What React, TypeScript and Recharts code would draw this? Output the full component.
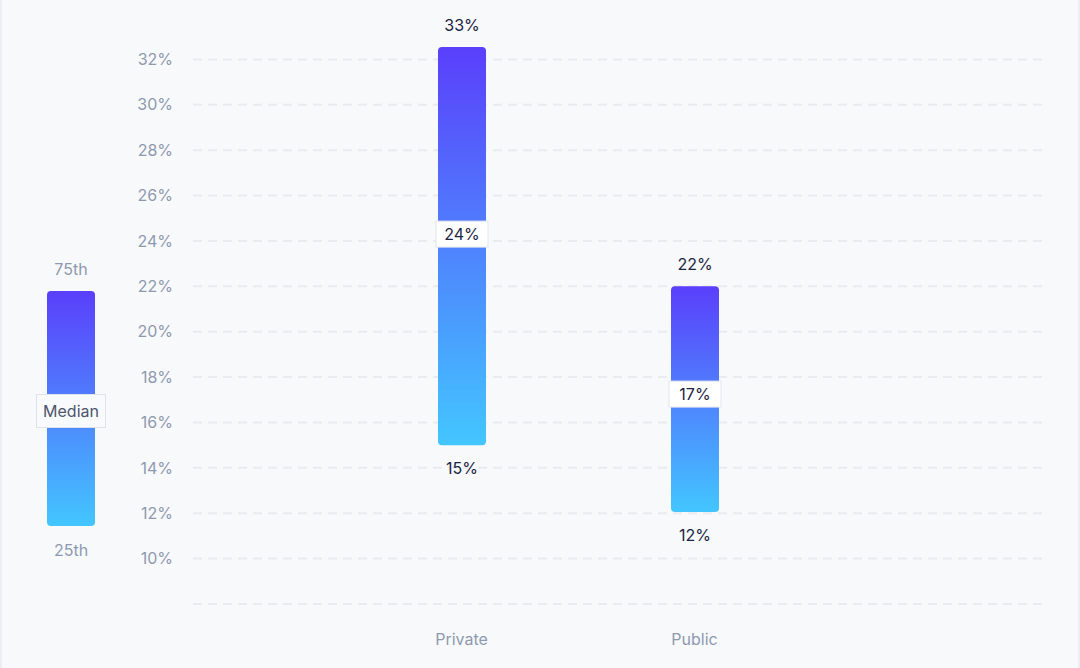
import { BarChart, Bar, XAxis, YAxis, CartesianGrid } from "recharts";

// Percentile ranges per category (in %)
const categories = ["Private", "Public"];
const p25Values = [15.0, 12.05];
const medianValues = [24.3, 17.25];
const p75Values = [32.55, 22.0];
const yTicks = [8, 10, 12, 14, 16, 18, 20, 22, 24, 26, 28, 30, 32];
const yDomain = [8, 34];

const data = categories.map((name, i) => ({
  name,
  range: [p25Values[i], p75Values[i]],
  low: p25Values[i],
  high: p75Values[i],
  median: medianValues[i],
}));

const TOP_COLOR = "#5a3ffb";
const BOTTOM_COLOR = "#43c6ff";
const LABEL_COLOR = "#1b2443";
const TICK_COLOR = "#8e99b0";

// Grid only at the tick values (no line at the domain's top edge)
function gridRows(args: any) {
  const sc = args?.yAxis?.scale;
  if (typeof sc === "function") return yTicks.map((t) => sc(t));
  if (sc && typeof sc.map === "function") return yTicks.map((t) => sc.map(t));
  const { offset } = args;
  return yTicks.map(
    (t) => offset.top + (offset.height * (yDomain[1] - t)) / (yDomain[1] - yDomain[0])
  );
}

// Custom bar: gradient range box, value labels above/below, median badge
function RangeShape(props: any) {
  const { x, y, width, height, payload, index } = props;
  if (height == null || isNaN(height)) return null;
  const { low, high, median } = payload;
  const my = y + (height * (high - median)) / (high - low);
  const gid = `rangeGrad-${index}`;
  const cx = x + width / 2;
  return (
    <g>
      <defs>
        <linearGradient id={gid} x1="0" y1="0" x2="0" y2="1">
          <stop offset="0%" stopColor={TOP_COLOR} />
          <stop offset="100%" stopColor={BOTTOM_COLOR} />
        </linearGradient>
      </defs>
      <rect x={x} y={y} width={width} height={height} rx={4} ry={4} fill={`url(#${gid})`} />
      <text x={cx} y={y - 22} textAnchor="middle" dominantBaseline="central" fill={LABEL_COLOR} fontSize={16}>
        {Math.round(high)}%
      </text>
      <text x={cx} y={y + height + 23} textAnchor="middle" dominantBaseline="central" fill={LABEL_COLOR} fontSize={16}>
        {Math.round(low)}%
      </text>
      <rect x={x - 2} y={my - 13} width={width + 4} height={26} fill="#ffffff" stroke="#e3e6eb" strokeWidth={1} />
      <text x={cx} y={my} textAnchor="middle" dominantBaseline="central" fill={LABEL_COLOR} fontSize={16}>
        {Math.round(median)}%
      </text>
    </g>
  );
}

function Legend() {
  return (
    <svg width={130} height={668} style={{ position: "absolute", left: -2, top: 0 }}>
      <defs>
        <linearGradient id="legendGrad" x1="0" y1="0" x2="0" y2="1">
          <stop offset="0%" stopColor={TOP_COLOR} />
          <stop offset="100%" stopColor={BOTTOM_COLOR} />
        </linearGradient>
      </defs>
      <text x={71} y={269} textAnchor="middle" dominantBaseline="central" fill={TICK_COLOR} fontSize={16}>
        75th
      </text>
      <rect x={47} y={291} width={48} height={235} rx={4} ry={4} fill="url(#legendGrad)" />
      <rect x={36.5} y={394.5} width={69} height={33} fill="#f9fafc" stroke="#dfe2e8" strokeWidth={1} />
      <text x={71} y={411} textAnchor="middle" dominantBaseline="central" fill="#4b556c" fontSize={16}>
        Median
      </text>
      <text x={71} y={550} textAnchor="middle" dominantBaseline="central" fill={TICK_COLOR} fontSize={16}>
        25th
      </text>
    </svg>
  );
}

export default function App() {
  return (
    <div
      style={{
        position: "absolute",
        left: 0,
        top: 0,
        width: 1080,
        height: 668,
        boxSizing: "border-box",
        borderLeft: "2px solid #eceef2",
        borderRight: "2px solid #eceef2",
        background: "#f8f9fb",
        fontFamily: "Inter, 'Noto Sans', sans-serif",
      }}
    >
      <div style={{ position: "absolute", left: -2, top: 0 }}>
        <BarChart
          width={1080}
          height={668}
          data={data}
          margin={{ top: 14, right: 37, bottom: 14, left: 120 }}
        >
          <CartesianGrid
            vertical={false}
            stroke="#e9ebef"
            strokeWidth={2}
            strokeDasharray="9 6"
            horizontalCoordinatesGenerator={gridRows}
          />
          <XAxis
            dataKey="name"
            axisLine={false}
            tickLine={false}
            height={50}
            tickMargin={24}
            padding={{ left: 152, right: 232 }}
            tick={{ fill: TICK_COLOR, fontSize: 16 }}
          />
          <YAxis
            type="number"
            domain={yDomain}
            ticks={yTicks}
            allowDataOverflow
            width={73}
            axisLine={false}
            tickLine={false}
            tickMargin={14}
            tickFormatter={(v: number) => (v === 8 ? "" : `${v}%`)}
            tick={{ fill: TICK_COLOR, fontSize: 16 }}
          />
          <Bar dataKey="range" barSize={48} isAnimationActive={false} shape={<RangeShape />} />
        </BarChart>
      </div>
      <Legend />
    </div>
  );
}
